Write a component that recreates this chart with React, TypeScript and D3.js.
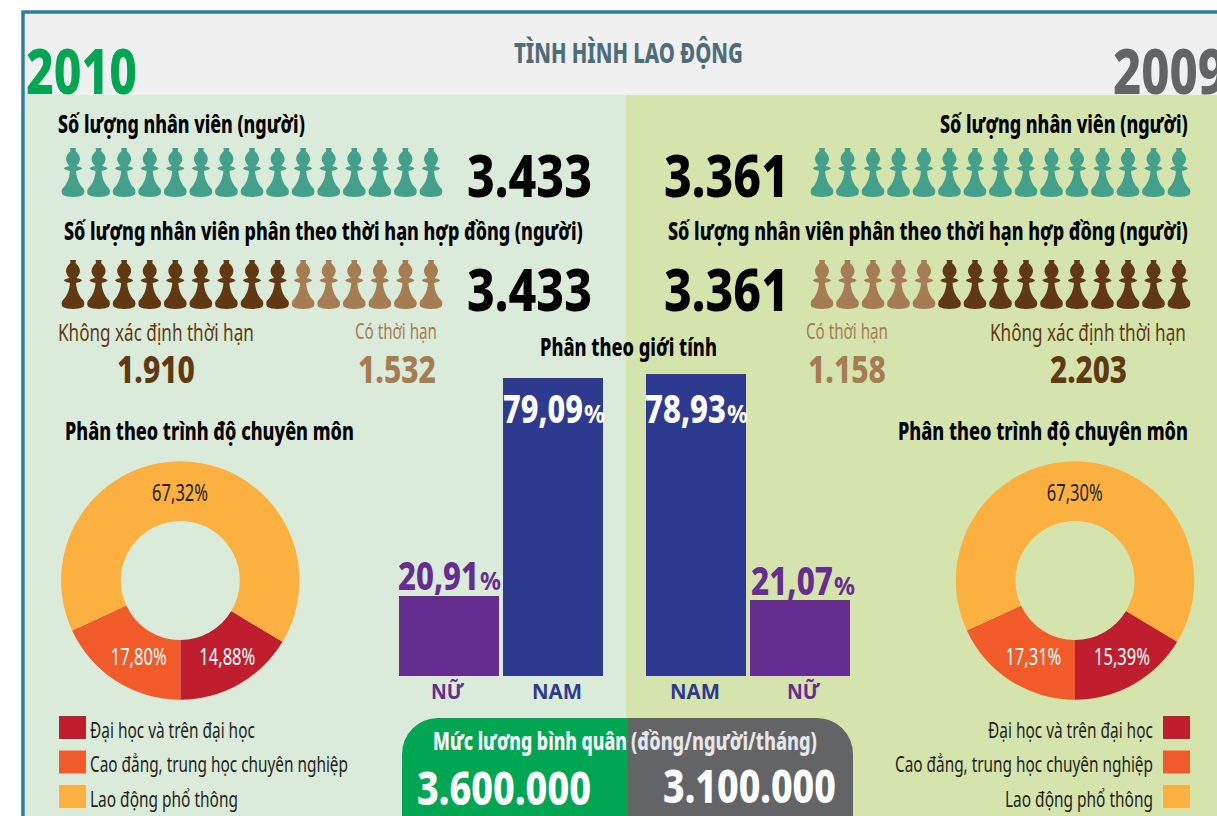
import { useLayoutEffect, useRef } from "react";
import * as d3 from "d3";

const years = ["2010", "2009"];
const staffTotals = ["3.433", "3.361"];
const contractLabels = ["Không xác định thời hạn", "Có thời hạn"];
const contractValues2010 = ["1.910", "1.532"];
const contractValues2009 = ["2.203", "1.158"];
const pawnSplit2010 = [9, 6];
const pawnSplit2009 = [10, 5];
const pawnCount = 15;
const genderLabels = ["NỮ", "NAM"];
const gender2010 = [20.91, 79.09];
const gender2009 = [21.07, 78.93];
const eduLabels = ["Đại học và trên đại học", "Cao đẳng, trung học chuyên nghiệp", "Lao động phổ thông"];
const edu2010 = [14.88, 17.8, 67.32];
const edu2009 = [15.39, 17.31, 67.3];
// the drawn rings are the same on both sides and do not follow the printed numbers
const eduSlices = [16.4, 18.1, 65.5];
const salaries = ["3.600.000", "3.100.000"];

const eduColors = ["#be1e2d", "#f15a29", "#fbb040"];
const GREEN = "#00a651";
const GREY = "#636466";
const TEAL = "#43a08a";
const BROWN = "#603913";
const TAN = "#a67c52";
const PURPLE = "#662d91";
const BLUE = "#2e3a8f";
const FONT = "'Noto Sans', 'Open Sans', sans-serif";

const PAWN =
  "M-3 0H3L2.5 3C5 5 7 8 7 11C7 14 5 16 3.5 18C6 18.5 9 19.5 9 20.5C9 21.5 5 22.5 3 23C3.5 30 6 36 10 40C12 42 11.5 46 10 47C6 49.5 -6 49.5 -10 47C-11.5 46 -12 42 -10 40C-6 36 -3.5 30 -3 23C-5 22.5 -9 21.5 -9 20.5C-9 19.5 -6 18.5 -3.5 18C-5 16 -7 14 -7 11C-7 8 -5 5 -2.5 3Z";

const fmt = (v: number) => d3.format(".2f")(v).replace(".", ",");

// text squeezed to the measured width, the source font is a condensed one
function T({ x, y, w, size, fill = "#000", weight = 700, children }: any) {
  const ref = useRef<SVGTextElement>(null);
  useLayoutEffect(() => {
    const el = ref.current;
    if (!el) return;
    el.setAttribute("transform", `translate(${x},0) scale(${w / el.getComputedTextLength()},1)`);
  });
  return (
    <text ref={ref} y={y} fontSize={size} fill={fill} fontWeight={weight} fontFamily={FONT}>
      {children}
    </text>
  );
}

function Pawns({ x0, x1, y, colors }: { x0: number; x1: number; y: number; colors: string[] }) {
  const x = d3.scalePoint<number>().domain(d3.range(pawnCount)).range([x0, x1]);
  return (
    <g>
      {colors.map((c, i) => (
        <path key={i} d={PAWN} fill={c} transform={`translate(${x(i)},${y})`} />
      ))}
    </g>
  );
}

function Donut({ cx, values }: { cx: number; values: number[] }) {
  const cy = 580.5;
  const span = (eduSlices[0] / d3.sum(eduSlices)) * 2 * Math.PI;
  const pie = d3.pie<number>().sort(null).startAngle(Math.PI - span).endAngle(3 * Math.PI - span);
  const arc = d3.arc<d3.PieArcDatum<number>>().innerRadius(59.5).outerRadius(119.2);
  const nudgeX = [3, 6.5, -5];
  const nudgeY = [7, 9, 10];
  return (
    <g>
      {pie(eduSlices).map((d, i) => {
        const [lx, ly] = arc.centroid(d);
        return (
          <g key={i}>
            <path d={arc(d) as string} fill={eduColors[i]} transform={`translate(${cx},${cy})`} />
            <T x={cx + lx + nudgeX[i] - 28} y={cy + ly + nudgeY[i]} w={56} size={23} weight={400}
              fill={i === 2 ? "#231f20" : "#fff"}>
              {fmt(values[i])}%
            </T>
          </g>
        );
      })}
    </g>
  );
}

export default function App() {
  const base = 676;
  const yL = d3.scaleLinear().domain(d3.extent(gender2010) as [number, number]).range([596, 378]);
  const yR = d3.scaleLinear().domain(d3.extent(gender2009) as [number, number]).range([600, 374]);
  const split = (s: number[]) => [...d3.range(s[0]).map(() => BROWN), ...d3.range(s[1]).map(() => TAN)];
  const swatchY = d3.scalePoint<number>().domain([0, 1, 2]).range([716, 785]);

  return (
    <svg width={1217} height={816} style={{ position: "absolute", left: 0, top: 0, background: "#fff" }}>
      {/* panels and frame */}
      <rect x={25} y={13} width={1192} height={82} fill="#f0f0f0" />
      <rect x={25} y={95} width={601} height={721} fill="#daebd9" />
      <rect x={626} y={95} width={591} height={721} fill="#d5e4ac" />
      <path d="M23 816V12H1217" fill="none" stroke="#2e7d9e" strokeWidth={3.5} />

      <T x={514} y={63} w={229} size={28} fill="#4d6d78" weight={800}>TÌNH HÌNH LAO ĐỘNG</T>
      <T x={26} y={94.5} w={111} size={62} fill={GREEN} weight={800}>{years[0]}</T>
      <T x={1113} y={94.5} w={113} size={62} fill={GREY} weight={800}>{years[1]}</T>

      {/* staff */}
      <T x={58} y={133} w={247} size={24} weight={800}>Số lượng nhân viên (người)</T>
      <T x={940} y={133} w={248} size={24} weight={800}>Số lượng nhân viên (người)</T>
      <Pawns x0={73} x1={431} y={148} colors={d3.range(pawnCount).map(() => TEAL)} />
      <Pawns x0={822} x1={1179} y={148} colors={d3.range(pawnCount).map(() => TEAL)} />
      <T x={467} y={197} w={125} size={58} weight={800}>{staffTotals[0]}</T>
      <T x={664} y={197} w={125} size={58} weight={800}>{staffTotals[1]}</T>

      {/* contracts */}
      <T x={64} y={240} w={519} size={24} weight={800}>Số lượng nhân viên phân theo thời hạn hợp đồng (người)</T>
      <T x={668} y={240} w={520} size={24} weight={800}>Số lượng nhân viên phân theo thời hạn hợp đồng (người)</T>
      <Pawns x0={73} x1={431} y={260} colors={split(pawnSplit2010)} />
      <Pawns x0={822} x1={1179} y={260} colors={[...split(pawnSplit2009)].reverse()} />
      <T x={467} y={311} w={125} size={58} weight={800}>{staffTotals[0]}</T>
      <T x={664} y={311} w={125} size={58} weight={800}>{staffTotals[1]}</T>

      <T x={58} y={341} w={196} size={24} fill={BROWN} weight={400}>{contractLabels[0]}</T>
      <T x={355} y={339} w={82} size={22} fill={TAN} weight={400}>{contractLabels[1]}</T>
      <T x={806} y={339} w={82} size={22} fill={TAN} weight={400}>{contractLabels[1]}</T>
      <T x={990} y={341} w={196} size={24} fill={BROWN} weight={400}>{contractLabels[0]}</T>
      <T x={117} y={383} w={78} size={38} fill={BROWN} weight={800}>{contractValues2010[0]}</T>
      <T x={358} y={383} w={78} size={38} fill={TAN} weight={800}>{contractValues2010[1]}</T>
      <T x={808} y={383} w={78} size={38} fill={TAN} weight={800}>{contractValues2009[1]}</T>
      <T x={1050} y={383} w={77} size={38} fill={BROWN} weight={800}>{contractValues2009[0]}</T>

      {/* gender bars */}
      <T x={540} y={356} w={177} size={24} weight={800}>Phân theo giới tính</T>
      <rect x={399} y={yL(gender2010[0])} width={100} height={base - yL(gender2010[0])} fill={PURPLE} />
      <rect x={503} y={yL(gender2010[1])} width={100} height={base - yL(gender2010[1])} fill={BLUE} />
      <rect x={646} y={yR(gender2009[1])} width={100} height={base - yR(gender2009[1])} fill={BLUE} />
      <rect x={750} y={yR(gender2009[0])} width={100} height={base - yR(gender2009[0])} fill={PURPLE} />

      <T x={398} y={590} w={81} size={39} fill={PURPLE} weight={800}>{fmt(gender2010[0])}</T>
      <T x={480} y={590} w={21} size={25} fill={PURPLE}>%</T>
      <T x={503} y={423} w={80} size={39} fill="#fff" weight={800}>{fmt(gender2010[1])}</T>
      <T x={584} y={423} w={21} size={25} fill="#fff">%</T>
      <T x={645} y={423} w={81} size={39} fill="#fff" weight={800}>{fmt(gender2009[1])}</T>
      <T x={727} y={423} w={21} size={25} fill="#fff">%</T>
      <T x={751} y={595} w={82} size={39} fill={PURPLE} weight={800}>{fmt(gender2009[0])}</T>
      <T x={834} y={595} w={21} size={25} fill={PURPLE}>%</T>

      <T x={431} y={699} w={33} size={21} fill={PURPLE}>{genderLabels[0]}</T>
      <T x={532} y={699} w={50} size={21} fill={BLUE}>{genderLabels[1]}</T>
      <T x={670} y={699} w={50} size={21} fill={BLUE}>{genderLabels[1]}</T>
      <T x={787} y={699} w={33} size={21} fill={PURPLE}>{genderLabels[0]}</T>

      {/* education */}
      <T x={65} y={440} w={289} size={24} weight={800}>Phân theo trình độ chuyên môn</T>
      <T x={898} y={440} w={290} size={24} weight={800}>Phân theo trình độ chuyên môn</T>
      <Donut cx={180.3} values={edu2010} />
      <Donut cx={1075} values={edu2009} />

      {eduLabels.map((l, i) => (
        <g key={l}>
          <rect x={59} y={swatchY(i)} width={27} height={23} fill={eduColors[i]} />
          <T x={90} y={(swatchY(i) as number) + 22} w={[165, 258, 148][i]} size={22} weight={400} fill="#231f20">{l}</T>
          <rect x={1163} y={swatchY(i)} width={27} height={23} fill={eduColors[i]} />
          <T x={[988, 895, 1005][i]} y={(swatchY(i) as number) + 22} w={[165, 258, 148][i]} size={22} weight={400} fill="#231f20">{l}</T>
        </g>
      ))}

      {/* salary box */}
      <path d="M628 718H438A36 36 0 0 0 402 754V816H628Z" fill={GREEN} />
      <path d="M628 718H817A36 36 0 0 1 853 754V816H628Z" fill={GREY} />
      <T x={433} y={750} w={194} size={25} fill="#fff" weight={800}>Mức lương bình quân</T>
      <T x={631} y={750} w={186} size={25} fill="#e6e7e8" weight={800}>(đồng/người/tháng)</T>
      <T x={417} y={805} w={174} size={46} fill="#fff" weight={800}>{salaries[0]}</T>
      <T x={663} y={803} w={173} size={46} fill="#fff" weight={800}>{salaries[1]}</T>
    </svg>
  );
}
